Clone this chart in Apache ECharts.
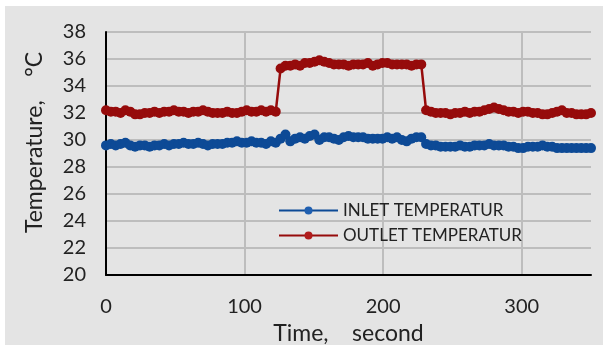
<!DOCTYPE html>
<html>
<head>
<meta charset="utf-8">
<script src="https://cdn.jsdelivr.net/npm/echarts@6/dist/echarts.min.js"></script>
<style>
  html, body { margin: 0; padding: 0; background: #fff; }
  #chart { width: 603px; height: 347px; }
</style>
</head>
<body>
<div id="chart"></div>
<script>
// sampling step of the logger, seconds
var sampleStep = 3.5;

var inletTemp = [
  29.6, 29.7, 29.6, 29.7, 29.8, 29.6, 29.5, 29.6, 29.6, 29.5, 29.6, 29.6,
  29.7, 29.6, 29.7, 29.7, 29.8, 29.7, 29.7, 29.8, 29.7, 29.6, 29.7, 29.7,
  29.7, 29.8, 29.8, 29.9, 29.8, 29.8, 29.9, 29.8, 29.8, 29.7, 29.9, 29.8,
  30.1, 30.4, 29.9, 30.1, 30.2, 30.1, 30.3, 30.4, 30.0, 30.2, 30.2, 30.1,
  30.0, 30.2, 30.3, 30.2, 30.2, 30.2, 30.1, 30.1, 30.1, 30.1, 30.2, 30.1,
  30.2, 30.0, 29.9, 30.1, 30.2, 30.2,
  29.7, 29.6, 29.6, 29.5, 29.5, 29.5, 29.5, 29.6, 29.5, 29.5, 29.6, 29.6,
  29.6, 29.7, 29.6, 29.6, 29.6, 29.5, 29.5, 29.4, 29.4, 29.5, 29.5, 29.5,
  29.6, 29.5, 29.5, 29.4, 29.4, 29.4, 29.4, 29.4, 29.4, 29.4, 29.4
];

var outletTemp = [
  32.2, 32.1, 32.1, 32.0, 32.2, 32.1, 31.9, 31.9, 32.0, 32.0, 32.1, 32.0,
  32.1, 32.1, 32.2, 32.1, 32.1, 32.0, 32.1, 32.1, 32.2, 32.1, 32.0, 32.0,
  32.0, 32.1, 32.0, 32.0, 32.1, 32.2, 32.1, 32.1, 32.2, 32.1, 32.2, 32.1,
  35.3, 35.5, 35.5, 35.6, 35.5, 35.7, 35.7, 35.8, 35.9, 35.8, 35.7, 35.6,
  35.6, 35.6, 35.5, 35.6, 35.6, 35.6, 35.7, 35.5, 35.6, 35.7, 35.7, 35.6,
  35.6, 35.6, 35.6, 35.5, 35.6, 35.6,
  32.2, 32.1, 32.0, 32.0, 32.0, 31.9, 32.0, 32.0, 32.1, 32.0, 32.1, 32.1,
  32.2, 32.3, 32.4, 32.3, 32.2, 32.1, 32.1, 32.0, 32.1, 32.1, 32.0, 32.0,
  31.9, 31.9, 32.0, 32.1, 32.2, 32.0, 32.0, 31.9, 31.9, 31.9, 32.0
];

var seriesNames = ['INLET TEMPERATUR', 'OUTLET TEMPERATUR'];
var seriesColors = ['#0d4a96', '#960b0b'];
var legendColors = ['#1f5fb0', '#b01c1c'];

function pairs(vals) {
  return vals.map(function (v, i) { return [i * sampleStep, v]; });
}

var myChart = echarts.init(document.getElementById('chart'));
var font = 'Lato, "Open Sans", sans-serif';

var option = {
  animation: false,
  textStyle: { fontFamily: font },
  graphic: [{
    type: 'rect', z: -10, silent: true,
    shape: { x: 5, y: 6, width: 598, height: 339 },
    style: { fill: '#e4e4e4' }
  }],
  grid: { left: 106, right: 12, top: 32, bottom: 72, outerBoundsMode: 'none' },
  legend: {
    orient: 'vertical',
    left: 273, top: 197,
    itemGap: 8,
    itemWidth: 59, itemHeight: 10,
    textStyle: { fontSize: 17, color: '#222', fontFamily: font },
    data: [
      { name: seriesNames[0], itemStyle: { color: legendColors[0] } },
      { name: seriesNames[1], itemStyle: { color: legendColors[1] } }
    ]
  },
  xAxis: {
    type: 'value', min: 0, max: 350, interval: 100,
    name: 'Time,    second', nameLocation: 'middle', nameGap: 46,
    nameTextStyle: { fontSize: 23, color: '#222' },
    axisLine: { show: true, lineStyle: { color: '#000', width: 2 } },
    axisTick: { show: false },
    axisLabel: { fontSize: 20, color: '#222', margin: 22, showMaxLabel: false },
    splitLine: { show: true, showMinLine: false, showMaxLine: false, lineStyle: { color: '#bdbdbd', width: 2 } }
  },
  yAxis: {
    type: 'value', min: 20, max: 38, interval: 2,
    name: 'Temperature,    °C', nameLocation: 'middle', nameGap: 60,
    nameTextStyle: { fontSize: 23, color: '#222', padding: [0, 0, 0, 22] },
    axisLine: { show: true, lineStyle: { color: '#000', width: 2 } },
    axisTick: { show: false },
    axisLabel: { fontSize: 20, color: '#222', margin: 20 },
    splitLine: { show: true, showMinLine: false, lineStyle: { color: '#bdbdbd', width: 2 } }
  },
  series: [
    {
      name: seriesNames[0], type: 'line', data: pairs(inletTemp),
      symbol: 'circle', symbolSize: 10,
      lineStyle: { color: seriesColors[0], width: 2.5 },
      itemStyle: { color: seriesColors[0] }
    },
    {
      name: seriesNames[1], type: 'line', data: pairs(outletTemp),
      symbol: 'circle', symbolSize: 10,
      lineStyle: { color: seriesColors[1], width: 2.5 },
      itemStyle: { color: seriesColors[1] }
    }
  ]
};

myChart.setOption(option);
</script>
</body>
</html>
